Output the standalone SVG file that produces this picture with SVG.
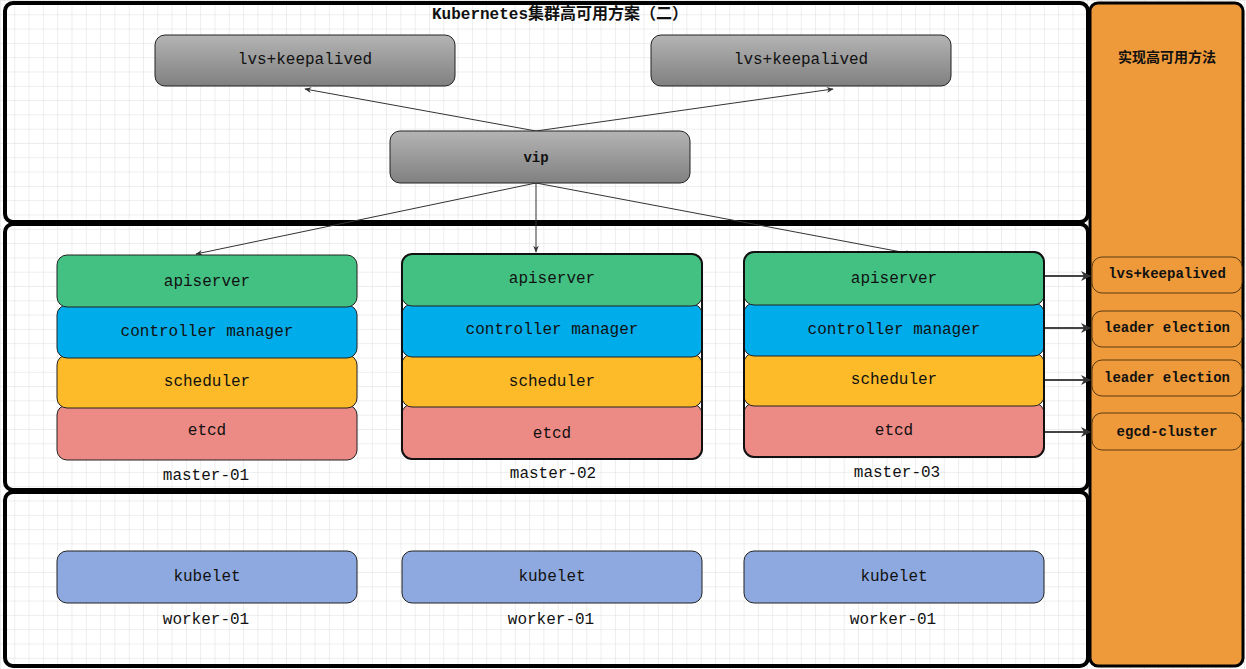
<svg xmlns="http://www.w3.org/2000/svg" width="1246" height="669" viewBox="0 0 1246 669">
<defs>
<pattern id="grid" width="14.3" height="14.3" patternUnits="userSpaceOnUse"><path d="M14.3 0H0V14.3" fill="none" stroke="#dcdcdc" stroke-width="1"/></pattern>
<linearGradient id="gg" x1="0" y1="0" x2="0" y2="1"><stop offset="0" stop-color="#b4b4b4"/><stop offset="1" stop-color="#808080"/></linearGradient>
<marker id="a" viewBox="0 0 10 10" refX="9" refY="5" markerWidth="7" markerHeight="7" orient="auto"><path d="M0 1L10 5L0 9L3 5Z" fill="#333"/></marker>
<marker id="b" viewBox="0 0 10 10" refX="9" refY="5" markerWidth="5" markerHeight="5" orient="auto"><path d="M0 0L10 5L0 10L3 5Z" fill="#333"/></marker>
</defs>
<style>
text{font-family:"Liberation Mono","Noto Sans CJK SC",monospace;font-size:16px;text-anchor:middle;dominant-baseline:central;fill:#111}
.b{font-weight:bold}
.panel{fill:none;stroke:#000;stroke-width:4}
.n{stroke:#222;stroke-width:1}
.g{fill:url(#gg)}
.api{fill:#43C183}.ctl{fill:#00ACEA}.sch{fill:#FDBB2A}.etc{fill:#EC8A86}.kub{fill:#8EA9E0}
.r{fill:#EE9A3A;stroke:#5a3a10;stroke-width:1}
.c{stroke:#333;stroke-width:1;fill:none}
.c2{stroke:#444;stroke-width:2;fill:none}
</style>
<rect width="1246" height="669" fill="#fff"/>
<rect width="1246" height="669" fill="url(#grid)"/>
<g id="panels">
<rect class="panel" x="5" y="3" width="1083" height="219" rx="8"/>
<rect class="panel" x="5" y="224" width="1083" height="266" rx="8"/>
<rect class="panel" x="5" y="492" width="1083" height="174" rx="8"/>
<rect x="1090" y="3" width="153" height="663" rx="8" fill="#EE9A3A" stroke="#000" stroke-width="3"/>
</g>
<text class="b" x="560" y="15">Kubernetes集群高可用方案（二）</text>
<text class="b" x="1167" y="58" style="font-size:14px">实现高可用方法</text>
<g id="connectors">
<path class="c" d="M536 131L305 89" marker-end="url(#a)"/>
<path class="c" d="M536 131L833 89" marker-end="url(#a)"/>
<path class="c" d="M536 183L196 254" marker-end="url(#a)"/>
<path class="c" d="M536 183L536 252" marker-end="url(#a)"/>
<path class="c" d="M536 183L912 254" marker-end="url(#a)"/>
<path class="c2" d="M1044 276H1090" marker-end="url(#b)"/>
<path class="c2" d="M1044 328H1090" marker-end="url(#b)"/>
<path class="c2" d="M1044 380H1090" marker-end="url(#b)"/>
<path class="c2" d="M1044 432H1090" marker-end="url(#b)"/>
</g>
<g id="lvs1"><rect class="n g" x="155" y="35" width="300" height="51" rx="10"/><text x="305" y="60">lvs+keepalived</text></g>
<g id="lvs2"><rect class="n g" x="651" y="35" width="300" height="51" rx="10"/><text x="801" y="60">lvs+keepalived</text></g>
<g id="vip"><rect class="n g" x="390" y="131" width="300" height="52" rx="10"/><text class="b" x="536" y="158" style="font-size:14px">vip</text></g>
<g id="master-01">
<rect class="n etc" x="57" y="405" width="300" height="55" rx="10"/>
<rect class="n sch" x="57" y="355" width="300" height="53" rx="10"/>
<rect class="n ctl" x="57" y="305" width="300" height="53" rx="10"/>
<rect class="n api" x="57" y="255" width="300" height="52" rx="10"/>
<text x="207" y="282">apiserver</text><text x="207" y="332">controller manager</text><text x="207" y="382">scheduler</text><text x="207" y="431">etcd</text>
<text x="206" y="476">master-01</text>
</g>
<g id="master-02">
<rect class="n etc" x="402" y="404" width="300" height="55" rx="10" stroke-width="2"/>
<rect class="n sch" x="402" y="354" width="300" height="53" rx="10"/>
<rect class="n ctl" x="402" y="304" width="300" height="53" rx="10"/>
<rect class="n api" x="402" y="254" width="300" height="52" rx="10"/>
<rect x="402" y="254" width="300" height="205" rx="10" fill="none" stroke="#111" stroke-width="2"/>
<text x="552" y="279">apiserver</text><text x="552" y="330">controller manager</text><text x="552" y="382">scheduler</text><text x="552" y="434">etcd</text>
<text x="553" y="474">master-02</text>
</g>
<g id="master-03">
<rect class="n etc" x="744" y="403" width="300" height="54" rx="10"/>
<rect class="n sch" x="744" y="353" width="300" height="53" rx="10"/>
<rect class="n ctl" x="744" y="303" width="300" height="53" rx="10"/>
<rect class="n api" x="744" y="252" width="300" height="53" rx="10"/>
<rect x="744" y="252" width="300" height="205" rx="10" fill="none" stroke="#111" stroke-width="2"/>
<text x="894" y="279">apiserver</text><text x="894" y="330">controller manager</text><text x="894" y="380">scheduler</text><text x="894" y="431">etcd</text>
<text x="897" y="473">master-03</text>
</g>
<g id="worker-1"><rect class="n kub" x="57" y="551" width="300" height="52" rx="10"/><text x="207" y="577">kubelet</text><text x="206" y="620">worker-01</text></g>
<g id="worker-2"><rect class="n kub" x="402" y="551" width="300" height="52" rx="10"/><text x="552" y="577">kubelet</text><text x="551" y="620">worker-01</text></g>
<g id="worker-3"><rect class="n kub" x="744" y="551" width="300" height="52" rx="10"/><text x="894" y="577">kubelet</text><text x="893" y="620">worker-01</text></g>
<g id="ha1"><rect class="r" x="1092" y="257" width="150" height="36" rx="10"/><text class="b" x="1167" y="274" style="font-size:14px">lvs+keepalived</text></g>
<g id="ha2"><rect class="r" x="1092" y="311" width="150" height="36" rx="10"/><text class="b" x="1167" y="328" style="font-size:14px">leader election</text></g>
<g id="ha3"><rect class="r" x="1092" y="360" width="150" height="36" rx="10"/><text class="b" x="1167" y="378" style="font-size:14px">leader election</text></g>
<g id="ha4"><rect class="r" x="1092" y="413" width="150" height="37" rx="10"/><text class="b" x="1167" y="432" style="font-size:14px">egcd-cluster</text></g>
</svg>
